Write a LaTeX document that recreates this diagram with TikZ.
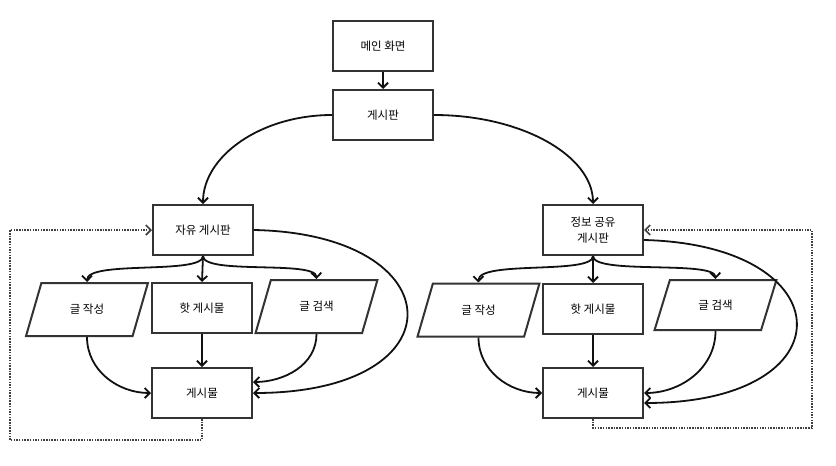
\documentclass[tikz,border=0pt]{standalone}
\usepackage{fontspec}
\newfontfamily\kr{Noto Sans CJK KR}
\usetikzlibrary{arrows.meta,shapes.geometric}

\definecolor{edge}{HTML}{333333}
\definecolor{wire}{HTML}{111111}

\tikzset{
  box/.style={draw=edge, line width=2pt, minimum width=100pt, minimum height=50pt,
              inner sep=0pt, align=center, font=\kr\fontsize{11.5pt}{16pt}\selectfont},
  para/.style={draw=edge, line width=2pt, trapezium, trapezium left angle=61,
               trapezium right angle=119, trapezium stretches=true,
               minimum width=122pt, minimum height=53pt, inner sep=0pt,
               font=\kr\fontsize{11.5pt}{16pt}\selectfont},
  conn/.style={draw=wire, line width=1.8pt, -{Straight Barb[length=5pt,width=10pt]}},
  back/.style={draw=wire!80, line width=1.7pt, dash pattern=on 1.5pt off 1.2pt,
               -{Straight Barb[length=5pt,width=10pt]}},
}

\begin{document}
\begin{tikzpicture}[x=1pt, y=-1pt]
\useasboundingbox (0,0) rectangle (836,466);

% top of the menu tree
\node[box] (main)  at (383,46)  {메인 화면};
\node[box] (board) at (383,115) {게시판};

% free board branch
\node[box]  (free)  at (203,230)   {자유 게시판};
\node[para] (lw)    at (87,309.5)  {글 작성};
\node[box]  (lhot)  at (202,308)   {핫 게시물};
\node[para, minimum height=53pt] (ls) at (316.5,306.5) {글 검색};
\node[box]  (lpost) at (202,393)   {게시물};

% info-sharing board branch
\node[box]  (info)  at (593,230)   {정보 공유\\게시판};
\node[para] (rw)    at (478.5,310) {글 작성};
\node[box]  (rhot)  at (593,309)   {핫 게시물};
\node[para, minimum height=50pt] (rs) at (715.5,305) {글 검색};
\node[box]  (rpost) at (593,393)   {게시물};

% main flow
\draw[conn] (main.south) -- (board.north);
\draw[conn] (board.west) .. controls (261,115) and (203,156) .. (free.north);
\draw[conn] (board.east) .. controls (522,115) and (593,156) .. (info.north);

% free board
\draw[conn] (free.south) .. controls (203,275) and (87,260) .. (lw.north);
\draw[conn] (free.south) -- (lhot.north);
\draw[conn] (free.south) .. controls (203,275) and (316,260) .. (ls.north);
\draw[conn] (lw.south) to[out=-90, in=180] (lpost.west);
\draw[conn] (lhot.south) -- (lpost.north);
\draw[conn] (ls.south) to[out=-90, in=0] ([yshift=11pt]lpost.east);
\draw[conn] (free.east) .. controls (455,234) and (462,393) .. (lpost.east);
\draw[back] (lpost.south) |- (10,440) |- (free.west);

% info-sharing board
\draw[conn] (info.south) .. controls (593,275) and (478,260) .. (rw.north);
\draw[conn] (info.south) -- (rhot.north);
\draw[conn] (info.south) .. controls (593,275) and (715,260) .. (rs.north);
\draw[conn] (rw.south) to[out=-90, in=180] (rpost.west);
\draw[conn] (rhot.south) -- (rpost.north);
\draw[conn] (rs.south) to[out=-90, in=0] (rpost.east);
\draw[conn] ([yshift=-10pt]info.east) .. controls (845,245) and (850,403) .. ([yshift=-10pt]rpost.east);
\draw[back] (rpost.south) |- (812,428) |- (info.east);
\end{tikzpicture}
\end{document}
